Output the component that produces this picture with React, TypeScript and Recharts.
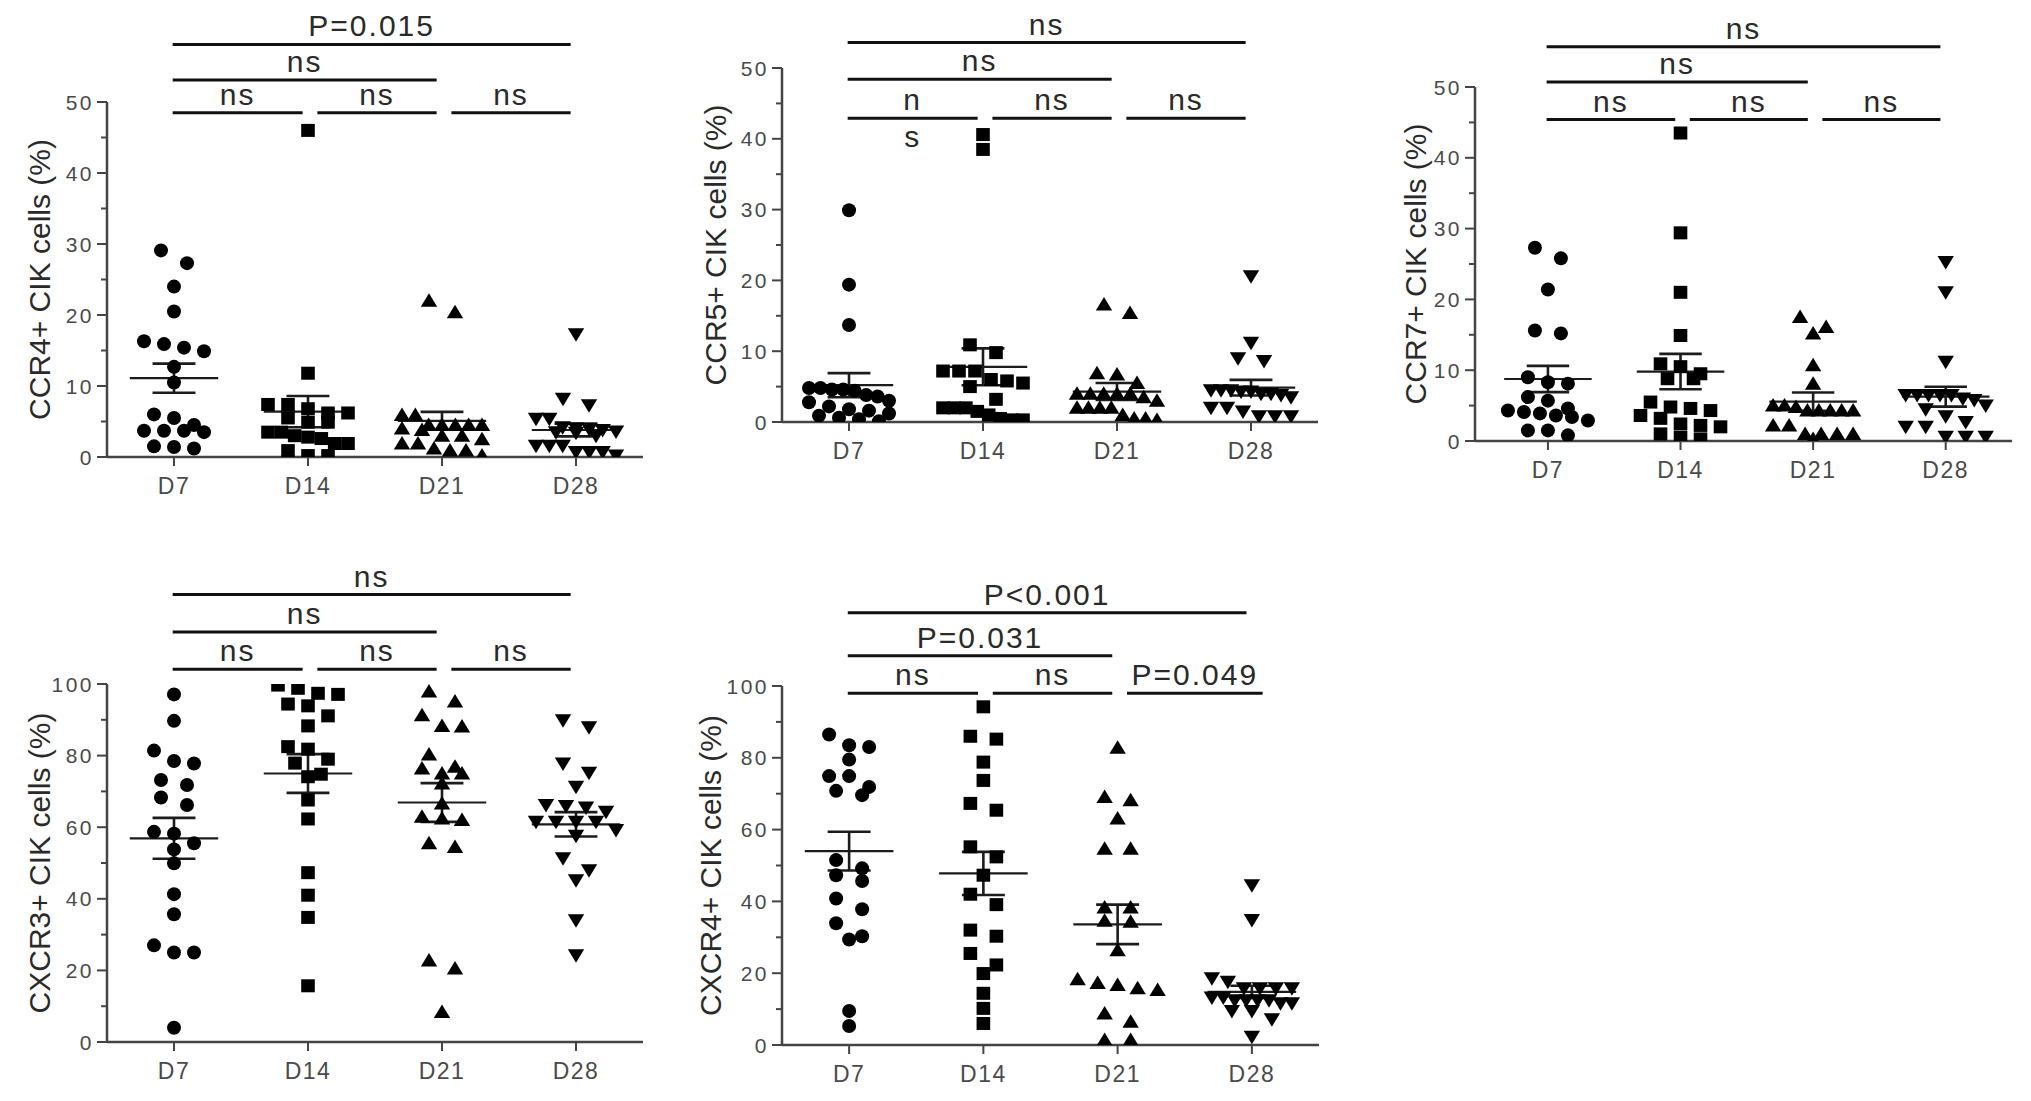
import React from 'react';
import { ScatterChart, Scatter, XAxis, YAxis, ReferenceLine } from 'recharts';

const days = ['D7', 'D14', 'D21', 'D28'];

// ---------- CCR4+ ----------
const ccr4D7 = [29.1, 27.3, 24.0, 20.5, 16.3, 15.4, 15.9, 14.9, 12.7, 10.5, 5.5, 3.7, 3.5, 4.5, 6.0, 3.7, 3.7, 1.5, 1.2, 1.4];
const ccr4D14 = [46.0, 11.8, 7.4, 7.4, 6.2, 6.2, 4.9, 4.9, 3.5, 3.5, 2.6, 2.8, 1.9, 1.9, 0.9, 0.2, 0.2, 5.5, 6.8, 3.0];
const ccr4D21 = [22.0, 20.4, 5.9, 5.9, 4.5, 4.5, 4.5, 4.5, 4.5, 3.0, 3.0, 1.9, 1.9, 0.9, 0.9, 0.2, 4.0, 3.8, 1.2, 2.5];
const ccr4D28 = [17.3, 8.2, 7.3, 5.4, 5.4, 4.2, 4.0, 3.9, 3.8, 3.6, 3.5, 3.4, 1.6, 1.6, 1.6, 0.7, 0.7, 0.7, 0.2, 3.0];
const ccr4Mean = [11.1, 6.4, 5.1, 3.8];
const ccr4Sem = [2.05, 2.2, 1.25, 0.9];
const ccr4Tests: [number, number, string, string?][] = [[1, 2, 'ns'], [2, 3, 'ns'], [3, 4, 'ns'], [1, 3, 'ns'], [1, 4, 'P=0.015']];

// ---------- CCR5+ ----------
const ccr5D7 = [29.9, 19.4, 13.7, 4.8, 4.8, 4.6, 4.6, 4.4, 3.8, 3.6, 3.0, 2.8, 2.2, 1.8, 1.6, 1.2, 0.9, 0.6, 0.4, 0.1];
const ccr5D14 = [40.6, 38.5, 10.9, 9.8, 7.2, 7.2, 7.2, 5.8, 5.5, 5.0, 6.0, 3.2, 2.0, 2.0, 2.0, 1.5, 0.3, 0.3, 1.0, 0.5];
const ccr5D21 = [16.6, 15.4, 6.9, 6.7, 5.5, 4.0, 4.0, 4.0, 4.0, 4.0, 3.5, 2.0, 2.0, 2.0, 2.0, 0.5, 0.5, 1.0, 3.0, 0.3];
const ccr5D28 = [20.6, 11.2, 9.0, 8.6, 4.5, 4.5, 4.5, 4.3, 4.3, 4.0, 4.0, 3.8, 2.0, 2.0, 0.8, 0.8, 0.8, 3.5, 1.5];
const ccr5Mean = [5.2, 7.8, 4.3, 4.85];
const ccr5Sem = [1.7, 2.6, 1.2, 1.1];
const ccr5Tests: [number, number, string, string?][] = [[1, 2, 'n', 's'], [2, 3, 'ns'], [3, 4, 'ns'], [1, 3, 'ns'], [1, 4, 'ns']];

// ---------- CCR7+ ----------
const ccr7D7 = [27.3, 25.8, 21.4, 15.6, 15.2, 9.0, 8.1, 8.3, 5.7, 6.2, 4.6, 4.1, 4.3, 3.9, 3.4, 2.9, 1.5, 0.8, 1.5, 3.6];
const ccr7D14 = [43.5, 29.4, 21.0, 14.9, 10.9, 10.5, 9.5, 8.8, 8.8, 5.5, 4.8, 4.3, 4.6, 3.6, 3.2, 2.4, 2.0, 2.2, 1.0, 0.3, 0.5];
const ccr7D21 = [17.5, 16.1, 15.2, 10.7, 8.1, 5.0, 5.0, 4.3, 4.3, 4.3, 4.3, 4.3, 2.2, 2.2, 1.0, 1.0, 1.0, 1.0, 0.3, 4.8];
const ccr7D28 = [25.3, 21.0, 11.2, 6.5, 6.5, 6.5, 6.5, 6.5, 6.0, 5.0, 3.5, 2.7, 2.0, 2.0, 0.6, 0.6, 0.6, 5.8, 4.5];
const ccr7Mean = [8.76, 9.8, 5.55, 6.26];
const ccr7Sem = [1.85, 2.5, 1.3, 1.4];
const ccr7Tests: [number, number, string, string?][] = [[1, 2, 'ns'], [2, 3, 'ns'], [3, 4, 'ns'], [1, 3, 'ns'], [1, 4, 'ns']];

// ---------- CXCR3+ ----------
const cxcr3D7 = [97.1, 89.7, 81.4, 78.5, 77.8, 73.2, 71.8, 68.3, 66.2, 58.2, 58.7, 53.8, 55.5, 49.9, 41.3, 35.7, 27.0, 25.0, 25.0, 4.0];
const cxcr3D14 = [99.7, 98.8, 97.1, 94.4, 97.4, 93.9, 91.1, 88.3, 82.5, 81.8, 79.0, 77.9, 74.8, 74.1, 67.6, 62.3, 47.3, 41.0, 34.8, 15.7];
const cxcr3D21 = [97.9, 95.1, 91.3, 88.1, 88.3, 80.3, 76.9, 76.4, 75.0, 75.0, 72.2, 66.6, 62.4, 62.0, 62.9, 54.5, 55.5, 22.8, 20.5, 8.4];
const cxcr3D28 = [87.9, 89.9, 77.8, 75.2, 71.3, 65.9, 65.5, 66.2, 64.3, 61.5, 61.5, 61.5, 61.5, 59.2, 57.6, 51.3, 48.0, 45.2, 34.0, 24.2];
const cxcr3Mean = [56.9, 75.0, 66.9, 60.8];
const cxcr3Sem = [5.7, 5.4, 5.4, 3.4];
const cxcr3Tests: [number, number, string, string?][] = [[1, 2, 'ns'], [2, 3, 'ns'], [3, 4, 'ns'], [1, 3, 'ns'], [1, 4, 'ns']];

// ---------- CXCR4+ ----------
const cxcr4D7 = [86.5, 83.0, 83.5, 79.5, 74.9, 74.9, 71.9, 70.8, 69.6, 51.5, 47.3, 49.2, 45.7, 40.8, 37.8, 33.9, 30.3, 29.4, 9.5, 5.3];
const cxcr4D14 = [94.2, 86.0, 85.2, 78.8, 73.7, 67.3, 65.4, 55.2, 52.4, 47.3, 42.0, 39.1, 32.0, 30.3, 25.5, 22.3, 19.9, 14.4, 10.2, 6.0];
const cxcr4D21 = [82.8, 69.1, 68.2, 63.1, 54.7, 54.7, 38.3, 38.3, 34.3, 34.6, 26.4, 18.3, 16.7, 15.3, 15.8, 17.3, 8.8, 6.5, 1.4, 1.4];
const cxcr4D28 = [44.5, 34.8, 18.6, 17.6, 15.8, 15.8, 15.8, 15.8, 13.2, 13.2, 12.5, 12.5, 12.5, 12.5, 11.6, 11.6, 9.5, 9.5, 7.2, 2.3];
const cxcr4Mean = [54.0, 47.8, 33.6, 14.8];
const cxcr4Sem = [5.4, 6.0, 5.5, 1.7];
const cxcr4Tests: [number, number, string, string?][] = [[1, 2, 'ns'], [2, 3, 'ns'], [3, 4, 'P=0.049'], [1, 3, 'P=0.031'], [1, 4, 'P<0.001']];

// ---------- layout / style ----------
const FONT = '"Liberation Sans", Arial, Helvetica, sans-serif';
const AXIS = '#444';
const INK = '#111';
const TEXT = '#2a2a2a';
const TICKTEXT = '#4a4a4a';

type PanelCfg = {
  title: string;
  left: number; top: number; width: number;
  plotLeft: number; plotRight: number; plotTop: number; plotBottom: number;
  xDomain: [number, number];
  yMax: number; yStep: number; labelStep: number;
  groups: number[][]; means: number[]; sems: number[];
  tests: [number, number, string, string?][];
  levels: number[];
  titleGap: number;
};

const panels: PanelCfg[] = [
  { title: 'CCR4+ CIK cells (%)', left: 0, top: 0, width: 660, plotLeft: 107, plotRight: 643, plotTop: 102, plotBottom: 457,
    xDomain: [0.5, 4.5], yMax: 50, yStep: 5, labelStep: 10, groups: [ccr4D7, ccr4D14, ccr4D21, ccr4D28],
    means: ccr4Mean, sems: ccr4Sem, tests: ccr4Tests, levels: [48.5, 53.1, 58.1], titleGap: 68 },
  { title: 'CCR5+ CIK cells (%)', left: 680, top: 0, width: 660, plotLeft: 782, plotRight: 1318, plotTop: 68, plotBottom: 422,
    xDomain: [0.5, 4.5], yMax: 50, yStep: 5, labelStep: 10, groups: [ccr5D7, ccr5D14, ccr5D21, ccr5D28],
    means: ccr5Mean, sems: ccr5Sem, tests: ccr5Tests, levels: [42.9, 48.4, 53.6], titleGap: 67 },
  { title: 'CCR7+ CIK cells (%)', left: 1360, top: 0, width: 671, plotLeft: 1475, plotRight: 2012, plotTop: 87, plotBottom: 441,
    xDomain: [0.45, 4.5], yMax: 50, yStep: 5, labelStep: 10, groups: [ccr7D7, ccr7D14, ccr7D21, ccr7D28],
    means: ccr7Mean, sems: ccr7Sem, tests: ccr7Tests, levels: [45.4, 50.7, 55.7], titleGap: 60 },
  { title: 'CXCR3+ CIK cells (%)', left: 0, top: 540, width: 660, plotLeft: 107, plotRight: 643, plotTop: 684, plotBottom: 1042,
    xDomain: [0.5, 4.5], yMax: 100, yStep: 10, labelStep: 20, groups: [cxcr3D7, cxcr3D14, cxcr3D21, cxcr3D28],
    means: cxcr3Mean, sems: cxcr3Sem, tests: cxcr3Tests, levels: [104.1, 114.5, 125.0], titleGap: 68 },
  { title: 'CXCR4+ CIK cells (%)', left: 680, top: 540, width: 660, plotLeft: 782, plotRight: 1319, plotTop: 686, plotBottom: 1045,
    xDomain: [0.5, 4.5], yMax: 100, yStep: 10, labelStep: 20, groups: [cxcr4D7, cxcr4D14, cxcr4D21, cxcr4D28],
    means: cxcr4Mean, sems: cxcr4Sem, tests: cxcr4Tests, levels: [98.0, 108.4, 120.4], titleGap: 72 },
];

// column-scatter layout (Prism-like): points of similar value share a row and are spread sideways
const ROW_PX = 13;
const MAX_HALF_PX = 40;
function columnScatter(values: number[], center: number, pxPerVal: number, catPx: number) {
  const sorted = [...values].sort((a, b) => b - a);
  const rows: number[][] = [];
  let cur: number[] = [];
  let start = 0;
  for (const v of sorted) {
    if (cur.length && (start - v) * pxPerVal > ROW_PX) { rows.push(cur); cur = []; }
    if (!cur.length) start = v;
    cur.push(v);
  }
  if (cur.length) rows.push(cur);
  const pts: { x: number; y: number }[] = [];
  for (const row of rows) {
    const n = row.length;
    const base = n === 2 ? 26 : 20;
    const sp = n > 1 ? Math.min(base, (2 * MAX_HALF_PX) / (n - 1)) : 0;
    row.forEach((v, k) => pts.push({ x: center + ((k - (n - 1) / 2) * sp) / catPx, y: v }));
  }
  return pts;
}

const Circle = (p: any) => <circle cx={p.cx} cy={p.cy} r={7} fill="#000" />;
const Square = (p: any) => <rect x={p.cx - 6.8} y={p.cy - 6.5} width={13.6} height={13} fill="#000" />;
const TriUp = (p: any) => <path d={`M${p.cx},${p.cy - 7.5}L${p.cx + 8.2},${p.cy + 6}L${p.cx - 8.2},${p.cy + 6}Z`} fill="#000" />;
const TriDown = (p: any) => <path d={`M${p.cx},${p.cy + 7.5}L${p.cx + 8.2},${p.cy - 6}L${p.cx - 8.2},${p.cy - 6}Z`} fill="#000" />;
const shapes = [Circle, Square, TriUp, TriDown];

function makeYTick(labelStep: number) {
  return (props: any) => {
    const { x, y, payload } = props;
    const v = payload.value;
    const major = Math.abs(v / labelStep - Math.round(v / labelStep)) < 1e-6;
    return (
      <g>
        <line x1={x - (major ? 10 : 6)} x2={x} y1={y} y2={y} stroke={AXIS} strokeWidth={2} />
        {major && (
          <text x={x - 13} y={y} dy="0.36em" textAnchor="end" fontSize={21} letterSpacing={2.5}
            fill={TICKTEXT} fontFamily={FONT}>{v}</text>
        )}
      </g>
    );
  };
}

const XTick = (props: any) => {
  const { x, y, payload } = props;
  return (
    <g>
      <line x1={x} x2={x} y1={y} y2={y + 9} stroke={AXIS} strokeWidth={2} />
      <text x={x} y={y + 37} textAnchor="middle" fontSize={23} letterSpacing={1.5} fill={TICKTEXT} fontFamily={FONT}>
        {days[Math.round(payload.value) - 1]}
      </text>
    </g>
  );
};

function bracketLabel(above: string, below?: string) {
  return (props: any) => {
    const vb = props.viewBox;
    if (!vb) return null;
    const cx = vb.x + vb.width / 2;
    return (
      <g>
        <text x={cx} y={vb.y - 8} textAnchor="middle" fontSize={30} letterSpacing={2} fill={TEXT} fontFamily={FONT}>{above}</text>
        {below && (
          <text x={cx} y={vb.y + 29} textAnchor="middle" fontSize={30} letterSpacing={2} fill={TEXT} fontFamily={FONT}>{below}</text>
        )}
      </g>
    );
  };
}

function Panel({ cfg }: { cfg: PanelCfg }) {
  const height = cfg.plotBottom - cfg.top + 55;
  const yAxisWidth = cfg.plotLeft - cfg.left;
  const margin = { top: cfg.plotTop - cfg.top, right: cfg.left + cfg.width - cfg.plotRight, bottom: 5, left: 0 };
  const pxPerVal = (cfg.plotBottom - cfg.plotTop) / cfg.yMax;
  const catPx = (cfg.plotRight - cfg.plotLeft) / (cfg.xDomain[1] - cfg.xDomain[0]);
  const yTicks: number[] = [];
  for (let v = 0; v <= cfg.yMax + 1e-9; v += cfg.yStep) yTicks.push(Math.round(v * 100) / 100);
  const gap = cfg.titleGap;
  const title = cfg.title;

  const yLabel = (props: any) => {
    const vb = props.viewBox;
    if (!vb) return null;
    const x = vb.x + vb.width - gap;
    const y = vb.y + vb.height / 2;
    return (
      <text x={x} y={y} dy="0.36em" transform={`rotate(-90 ${x} ${y})`} textAnchor="middle" fontSize={30}
        fill={TEXT} fontFamily={FONT}>{title}</text>
    );
  };

  const levelOf = (a: number, b: number) => (b - a === 1 ? 0 : b - a === 2 ? 1 : 2);

  return (
    <div style={{ position: 'absolute', left: cfg.left, top: cfg.top, width: cfg.width, height }}>
      <ScatterChart width={cfg.width} height={height} margin={margin}>
        <XAxis type="number" dataKey="x" domain={cfg.xDomain} ticks={[1, 2, 3, 4]} interval={0}
          tick={XTick} tickLine={false} tickSize={0} tickMargin={0} height={50}
          axisLine={{ stroke: AXIS, strokeWidth: 2.5 }} allowDataOverflow />
        <YAxis type="number" dataKey="y" domain={[0, cfg.yMax]} ticks={yTicks} interval={0}
          tick={makeYTick(cfg.labelStep)} tickLine={false} tickSize={0} tickMargin={0} width={yAxisWidth}
          axisLine={{ stroke: AXIS, strokeWidth: 2.5 }} label={yLabel} allowDataOverflow />
        {cfg.groups.map((vals, gi) => (
          <Scatter key={`g${gi}`} data={columnScatter(vals, gi + 1, pxPerVal, catPx)} shape={shapes[gi]}
            isAnimationActive={false} />
        ))}
        {cfg.means.map((m, gi) => (
          <ReferenceLine key={`m${gi}`} segment={[{ x: gi + 1 - 0.33, y: m }, { x: gi + 1 + 0.33, y: m }]}
            stroke="#1c1c1c" strokeWidth={2.2} ifOverflow="visible" />
        ))}
        {cfg.means.map((m, gi) => (
          <ReferenceLine key={`e${gi}`} segment={[{ x: gi + 1, y: m - cfg.sems[gi] }, { x: gi + 1, y: m + cfg.sems[gi] }]}
            stroke="#1c1c1c" strokeWidth={2.6} ifOverflow="visible" />
        ))}
        {cfg.means.map((m, gi) => (
          <ReferenceLine key={`u${gi}`} segment={[{ x: gi + 1 - 0.16, y: m + cfg.sems[gi] }, { x: gi + 1 + 0.16, y: m + cfg.sems[gi] }]}
            stroke="#1c1c1c" strokeWidth={2.6} ifOverflow="visible" />
        ))}
        {cfg.means.map((m, gi) => (
          <ReferenceLine key={`l${gi}`} segment={[{ x: gi + 1 - 0.16, y: m - cfg.sems[gi] }, { x: gi + 1 + 0.16, y: m - cfg.sems[gi] }]}
            stroke="#1c1c1c" strokeWidth={2.6} ifOverflow="visible" />
        ))}
        {cfg.tests.map(([a, b, txt, below], ti) => {
          const y = cfg.levels[levelOf(a, b)];
          const x1 = a === 1 ? a - 0.01 : a + 0.07;
          // a long label on a short adjacent bracket gets a slightly longer line
          const x2 = b - a === 1 && txt.length > 3 ? b + 0.08 : b - 0.04;
          return (
            <ReferenceLine key={`t${ti}`} segment={[{ x: x1, y }, { x: x2, y }]} stroke={INK} strokeWidth={3}
              ifOverflow="visible" label={bracketLabel(txt, below)} />
          );
        })}
      </ScatterChart>
    </div>
  );
}

export default function App() {
  return (
    <div style={{ position: 'absolute', left: 0, top: 0, width: 2031, height: 1101, background: '#fff', overflow: 'hidden', fontFamily: FONT }}>
      {panels.map((p, i) => <Panel key={i} cfg={p} />)}
    </div>
  );
}
